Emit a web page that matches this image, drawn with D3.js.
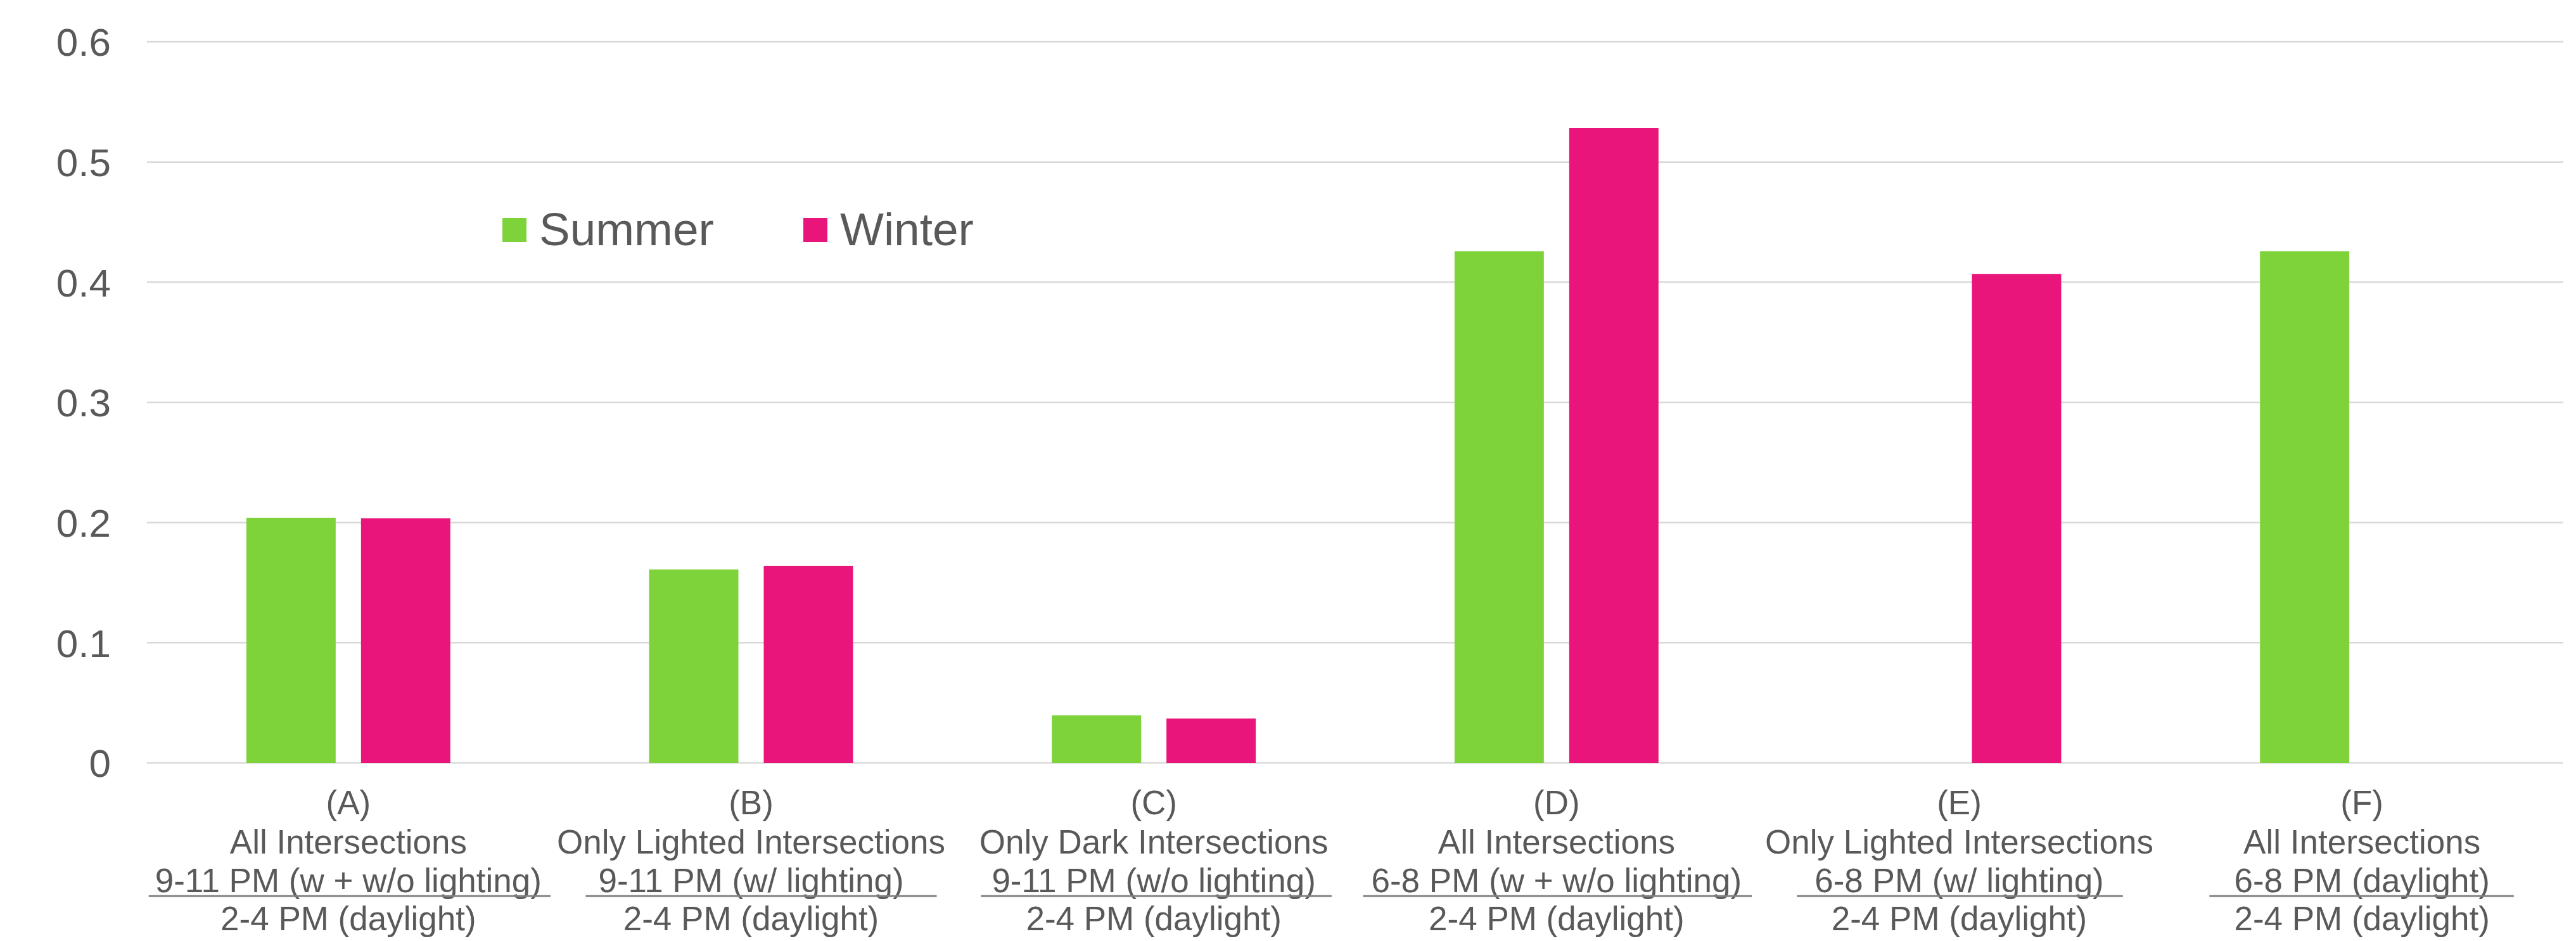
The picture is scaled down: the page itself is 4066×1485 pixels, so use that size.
<!DOCTYPE html>
<html lang="en">

<head>
    <meta charset="utf-8">
    <title>Summer vs Winter ratios</title>
    <script src="https://d3js.org/d3.v7.min.js"></script>
    <style>
        body {
            margin: 0;
            background: #ffffff;
        }

        #chart text {
            font-family: "Liberation Sans", Arial, sans-serif;
            fill: #595959;
        }

        #chart .grid line {
            stroke: #d9d9d9;
            stroke-width: 2.5px;
        }
    </style>
</head>

<body>
    <div id="chart"></div>
</body>
<script>
    // categories + the four label lines under each group
    var categories = ["A", "B", "C", "D", "E", "F"];
    var labelTop = ["(A)", "(B)", "(C)", "(D)", "(E)", "(F)"];
    var labelName = ["All Intersections", "Only Lighted Intersections", "Only Dark Intersections",
        "All Intersections", "Only Lighted Intersections", "All Intersections"];
    var labelNumer = ["9-11 PM (w + w/o lighting)", "9-11 PM (w/ lighting)", "9-11 PM (w/o lighting)",
        "6-8 PM (w + w/o lighting)", "6-8 PM (w/ lighting)", "6-8 PM (daylight)"];
    var labelDenom = ["2-4 PM (daylight)", "2-4 PM (daylight)", "2-4 PM (daylight)",
        "2-4 PM (daylight)", "2-4 PM (daylight)", "2-4 PM (daylight)"];

    var series = ["Summer", "Winter"];
    var summer = [0.204, 0.161, 0.0396, 0.4258, null, 0.4258];
    var winter = [0.2035, 0.164, 0.037, 0.5283, 0.4069, null];

    var yTicks = [0, 0.1, 0.2, 0.3, 0.4, 0.5, 0.6];

    var WIDTH = 4066;
    var HEIGHT = 1485;
    var COLORS = { Summer: "#7ed33a", Winter: "#ea157a" };
    // how far the fraction bar sticks out past the numerator text (left, right)
    var BAR_PAD_L = [10, 20, 17, 13, 28, 39];
    var BAR_PAD_R = [14, 52, 25, 16, 30, 38];

    var svg = d3.select("#chart")
        .append("svg")
        .attr("width", WIDTH)
        .attr("height", HEIGHT);

    svg.append("rect")
        .attr("width", WIDTH)
        .attr("height", HEIGHT)
        .attr("fill", "#ffffff");

    var x0 = d3.scaleBand()
        .domain(categories)
        .range([232, 4046]);

    var x1 = d3.scaleBand()
        .domain(series)
        .range([0, x0.bandwidth()])
        .paddingInner(0.221)
        .paddingOuter(0.867);

    var y = d3.scaleLinear()
        .domain([0, 0.6])
        .range([1204, 66]);

    // gridlines
    svg.append("g")
        .attr("class", "grid")
        .selectAll("line")
        .data(yTicks)
        .enter()
        .append("line")
        .attr("x1", x0.range()[0])
        .attr("x2", x0.range()[1])
        .attr("y1", d => y(d))
        .attr("y2", d => y(d));

    // y axis labels (no axis line, just the numbers)
    var yAxis = d3.axisLeft(y)
        .tickValues(yTicks)
        .tickFormat(d => d === 0 ? "0" : d3.format(".1f")(d))
        .tickSize(0)
        .tickPadding(57);

    var gy = svg.append("g")
        .attr("transform", "translate(" + x0.range()[0] + ",0)")
        .call(yAxis);
    gy.select(".domain").remove();
    gy.selectAll("text")
        .attr("font-size", 62)
        .attr("dy", "0.35em");

    // bars
    var rows = [];
    categories.forEach(function (c, i) {
        rows.push({ cat: c, key: "Summer", value: summer[i] });
        rows.push({ cat: c, key: "Winter", value: winter[i] });
    });

    svg.append("g")
        .selectAll("rect")
        .data(rows.filter(d => d.value != null))
        .enter()
        .append("rect")
        .attr("x", d => x0(d.cat) + x1(d.key))
        .attr("y", d => y(d.value))
        .attr("width", x1.bandwidth())
        .attr("height", d => y(0) - y(d.value))
        .attr("fill", d => COLORS[d.key]);

    // category labels, 4 lines with a fraction bar between the last two
    var lab = svg.append("g")
        .selectAll("g")
        .data(categories)
        .enter()
        .append("g")
        .attr("transform", d => "translate(" + (x0(d) + x0.bandwidth() / 2) + ",0)");

    var lines = [labelTop, labelName, labelNumer, labelDenom];
    var baselines = [1285, 1347, 1408, 1468];
    lines.forEach(function (arr, k) {
        lab.append("text")
            .attr("class", "cl" + k)
            .attr("text-anchor", "middle")
            .attr("y", baselines[k])
            .attr("font-size", 53)
            .text((d, i) => arr[i]);
    });

    lab.each(function (d, i) {
        var g = d3.select(this);
        var w = g.select(".cl2").node().getComputedTextLength();
        g.append("line")
            .attr("x1", -w / 2 - BAR_PAD_L[i])
            .attr("x2", w / 2 + BAR_PAD_R[i])
            .attr("y1", 1414)
            .attr("y2", 1414)
            .attr("stroke", "#808080")
            .attr("stroke-width", 3);
    });

    // legend
    var legend = svg.append("g")
        .attr("transform", "translate(793,344)");

    var legendX = d3.scaleOrdinal()
        .domain(series)
        .range([0, 475]);

    var li = legend.selectAll("g")
        .data(series)
        .enter()
        .append("g")
        .attr("transform", d => "translate(" + legendX(d) + ",0)");

    li.append("rect")
        .attr("width", 38)
        .attr("height", 38)
        .attr("fill", d => COLORS[d]);

    li.append("text")
        .attr("x", 58)
        .attr("y", 43)
        .attr("font-size", 73)
        .text(d => d);

</script>

</html>
